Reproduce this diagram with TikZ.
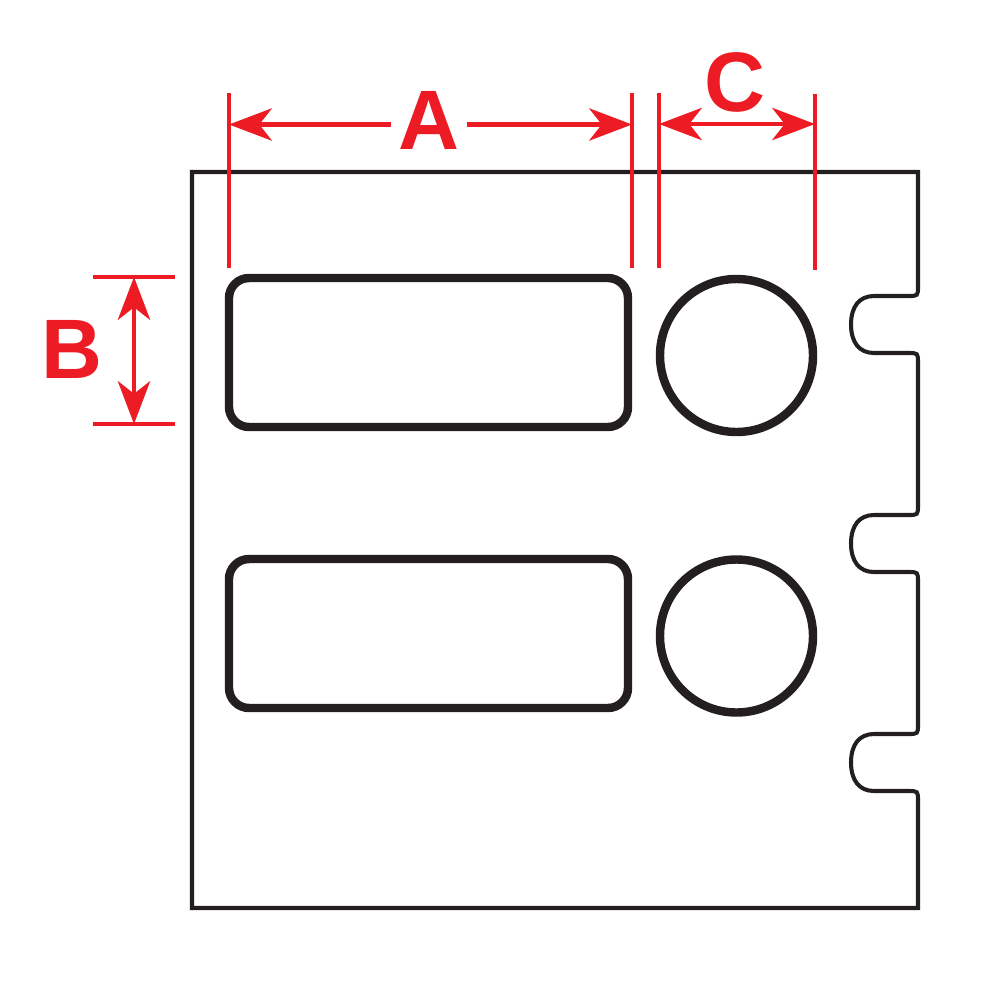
\documentclass[tikz,border=0pt]{standalone}
\usepackage{fontspec}
\newfontfamily\labelfont{Liberation Sans}
\usetikzlibrary{arrows.meta}
\definecolor{dimred}{RGB}{237,28,36}
\definecolor{ink}{RGB}{35,31,32}
\tikzset{
  sheet/.style={draw=ink, line width=1.15pt, line join=miter},
  cutout/.style={draw=ink, line width=2.4pt},
  extline/.style={draw=dimred, line width=1.15pt},
  dimline/.style={draw=dimred, line width=1.15pt, -{Stealth[length=12.2pt, width=9.2pt, inset=3.6pt]}},
  dimboth/.style={draw=dimred, line width=1.15pt, {Stealth[length=12.2pt, width=9.2pt, inset=3.6pt]}-{Stealth[length=12.2pt, width=9.2pt, inset=3.6pt]}},
  dimlabel/.style={text=dimred, font=\labelfont\bfseries\fontsize{24}{24}\selectfont, inner xsep=1.8pt, inner ysep=0pt, anchor=base}
}
\begin{document}
\begin{tikzpicture}[x=0.01cm, y=-0.01cm]
\useasboundingbox (0,0) rectangle (1000,1000);
% sheet outline with notches
\draw[sheet] (192,172) -- (918,172) -- (918,286)
  .. controls (918,296) .. (908,296) -- (874,296)
  .. controls (859,296) and (851,307) .. (851,324.5)
  .. controls (851,342) and (859,353) .. (874,353)
  -- (908,353) .. controls (918,353) .. (918,363)
  -- (918,505) .. controls (918,515) .. (908,515) -- (874,515)
  .. controls (859,515) and (851,526) .. (851,543.5)
  .. controls (851,561) and (859,572) .. (874,572)
  -- (908,572) .. controls (918,572) .. (918,582)
  -- (918,724) .. controls (918,734) .. (908,734) -- (874,734)
  .. controls (859,734) and (851,745) .. (851,762.5)
  .. controls (851,780) and (859,791) .. (874,791)
  -- (908,791) .. controls (918,791) .. (918,801)
  -- (918,908) -- (192,908) -- cycle;
% label cut-outs
\draw[cutout, rounded corners=5.7pt] (229,278) rectangle (628,427);
\draw[cutout, rounded corners=5.7pt] (229,559) rectangle (628,708);
\draw[cutout] (736.5,355.5) circle[radius=76.5];
\draw[cutout] (736.5,636) circle[radius=76.5];
% extension lines
\coordinate (aLt) at (229,93);  \coordinate (aLb) at (229,268);
\coordinate (aRt) at (632,93);  \coordinate (aRb) at (632,268);
\coordinate (cLt) at (659,93);  \coordinate (cLb) at (659,268);
\coordinate (cRt) at (815,94);  \coordinate (cRb) at (815,270);
\coordinate (bTl) at (93,277);  \coordinate (bTr) at (175,277);
\coordinate (bBl) at (93,424);  \coordinate (bBr) at (175,424);
\draw[extline] (aLt) -- (aLb);
\draw[extline] (aRt) -- (aRb);
\draw[extline] (cLt) -- (cLb);
\draw[extline] (cRt) -- (cRb);
\draw[extline] (bTl) -- (bTr);
\draw[extline] (bBl) -- (bBr);
% dimension A
\coordinate (aL) at (229,124.5);
\coordinate (aR) at (632,124.5);
\node[dimlabel] (Atext) at (429,149) {A};
\draw[dimline] (Atext.west |- aL) -- (aL);
\draw[dimline] (Atext.east |- aR) -- (aR);
% dimension C
\coordinate (cL) at (659,124);
\coordinate (cR) at (815,124);
\node[dimlabel] (Ctext) at (735,111) {C};
\draw[dimboth] (cL) -- (cR);
% dimension B
\coordinate (bT) at (134,277);
\coordinate (bB) at (134,424);
\node[dimlabel] (Btext) at (72,378) {B};
\draw[dimboth] (bT) -- (bB);
\end{tikzpicture}
\end{document}
